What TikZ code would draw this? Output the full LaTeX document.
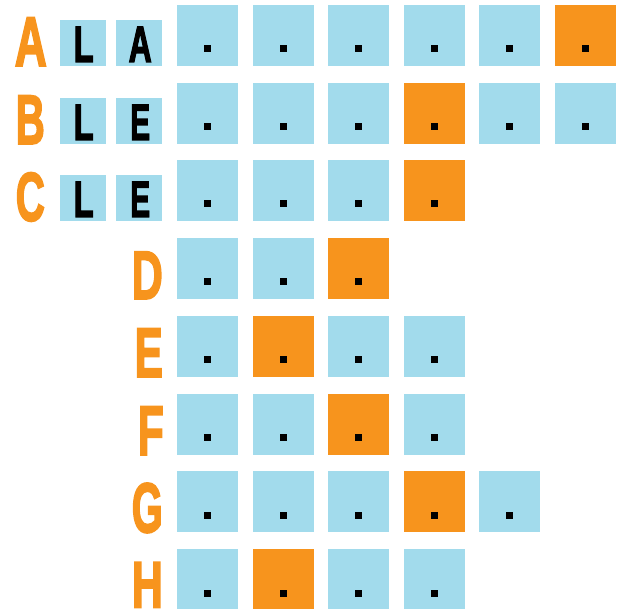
\documentclass[tikz,border=0pt]{standalone}
\usepackage{fontspec}
\setmainfont{Liberation Sans}
\newfontfamily\heavyfont[FakeBold=3]{Liberation Sans}
\usepackage{graphicx}
\usetikzlibrary{calc}
\definecolor{cellblue}{HTML}{A2DBEC}
\definecolor{cellorange}{HTML}{F7941D}
\begin{document}
\begin{tikzpicture}[x=1pt,y=-1pt,
  cell/.style={anchor=north west, minimum size=61pt, inner sep=0pt, outer sep=0pt},
  bluecell/.style={cell, fill=cellblue},
  orangecell/.style={cell, fill=cellorange},
  dotmark/.style={fill=black, minimum width=7pt, minimum height=7pt, inner sep=0pt},
  smallcell/.style={anchor=south west, minimum size=46pt, inner sep=0pt, fill=cellblue},
  rowletter/.style={anchor=south east, inner sep=0pt, text=cellorange, font=\heavyfont\bfseries},
  boxletter/.style={inner sep=0pt, text=black, font=\heavyfont\bfseries}]
\useasboundingbox (0,0) rectangle (632,609);
% rows: name / top / number of cells / orange index
\foreach \r/\top/\n/\o in {1/5/6/6, 2/83/6/4, 3/160/4/4, 4/238/3/3, 5/316/4/2, 6/394/4/3, 7/471/5/4, 8/549/4/2}{
  \foreach \c/\left in {1/177, 2/253, 3/328, 4/404, 5/479, 6/555}{
    \ifnum\c>\n\relax\else
      \ifnum\c=\o\relax
        \node[orangecell] (c\r-\c) at (\left,\top) {};
      \else
        \node[bluecell] (c\r-\c) at (\left,\top) {};
      \fi
      \node[dotmark] (d\r-\c) at ($(\left,\top)+(30.5,44)$) {};
    \fi
  }
}
% row letters A-C
\node[rowletter] (la) at (47,66) {\resizebox{32pt}{48pt}{A}};
\node[rowletter] (lb) at (45,144) {\resizebox{29pt}{48pt}{B}};
\node[rowletter] (lc) at (45,221.5) {\resizebox{29pt}{48pt}{C}};
% small boxes
\node[smallcell] (s1a) at (60,66) {};
\node[smallcell] (s1b) at (116,66) {};
\node[smallcell] (s2a) at (60,144) {};
\node[smallcell] (s2b) at (116,144) {};
\node[smallcell] (s3a) at (60,221) {};
\node[smallcell] (s3b) at (116,221) {};
\node[boxletter] (t1a) at ($(s1a.center)+(0.5,1.5)$) {\resizebox{20pt}{35pt}{L}};
\node[boxletter] (t1b) at ($(s1b.center)+(1,1.5)$) {\resizebox{23pt}{35pt}{A}};
\node[boxletter] (t2a) at ($(s2a.center)+(0.5,1.5)$) {\resizebox{20pt}{35pt}{L}};
\node[boxletter] (t2b) at ($(s2b.center)+(1,1.5)$) {\resizebox{20pt}{35pt}{E}};
\node[boxletter] (t3a) at ($(s3a.center)+(0.5,1.5)$) {\resizebox{20pt}{35pt}{L}};
\node[boxletter] (t3b) at ($(s3b.center)+(1,1.5)$) {\resizebox{20pt}{35pt}{E}};
% row letters D-H
\node[rowletter] (ld) at (163,299) {\resizebox{31pt}{47pt}{D}};
\node[rowletter] (le) at (163,377) {\resizebox{28pt}{48pt}{E}};
\node[rowletter] (lf) at (164,455) {\resizebox{26pt}{48pt}{F}};
\node[rowletter] (lg) at (163,533) {\resizebox{31pt}{49pt}{G}};
\node[rowletter] (lh) at (163,607.5) {\resizebox{31pt}{45pt}{H}};
\end{tikzpicture}
\end{document}
